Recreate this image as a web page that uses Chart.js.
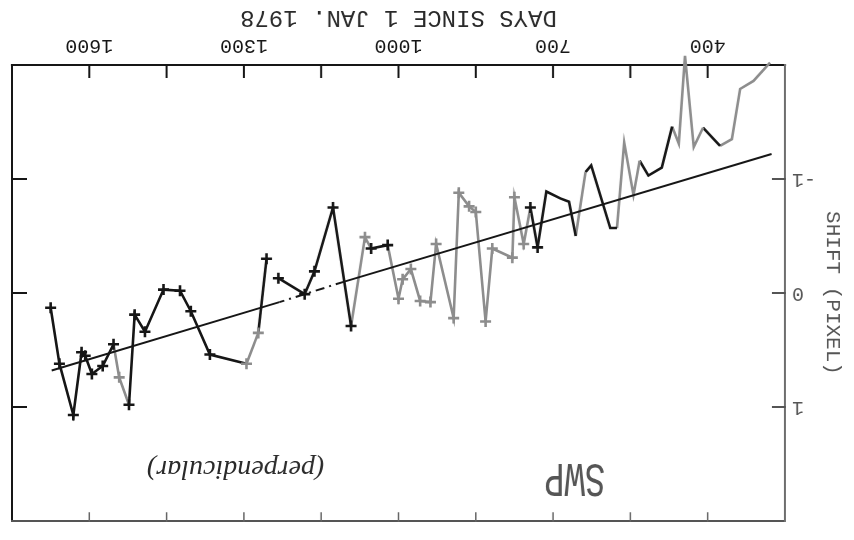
<!DOCTYPE html>
<html>
<head>
<meta charset="utf-8">
<title>SWP shift</title>
<script src="https://cdn.jsdelivr.net/npm/chart.js@4.4.1/dist/chart.umd.min.js"></script>
<style>
  html, body { margin: 0; padding: 0; background: #fff; }
  /* the plot sheet is mounted upside down */
  #sheet { width: 854px; height: 540px; transform: rotate(180deg); }
</style>
</head>
<body>
<div id="sheet"><canvas id="shiftChart" width="854" height="540"></canvas></div>
<script>
// labelled axis ticks
const dayTicks = [400, 700, 1000, 1300, 1600];
const shiftTicks = [-1, 0, 1];

// measured shifts, plotted with crosses (null = no data)
const markedDays = [730, 744, 757, 775, 779, 818, 831, 850, 863, 883, 893, 927, 938, 958, 976, 992,
  1000, 1021, 1053, 1065, 1092, 1127, 1163, 1182, 1233, 1245, 1256, 1272, 1295, 1366, 1403, 1424,
  1456, 1492, 1512, 1523, 1542, 1553, 1574, 1595, 1608, 1615, 1631, 1658, 1675];
const markedShift = [-0.40, -0.75, -0.43, -0.84, -0.31, -0.39, 0.25, -0.71, -0.76, -0.88, 0.22, -0.43, 0.08, 0.07, -0.21, -0.12,
  0.05, -0.42, -0.39, -0.49, 0.29, -0.75, -0.19, 0.01, -0.13, null, -0.30, 0.35, 0.62, 0.54, 0.16, -0.02,
  -0.03, 0.34, 0.19, 0.98, 0.74, 0.45, 0.64, 0.71, 0.55, 0.52, 1.07, 0.62, 0.13];

// later, continuous record (no crosses)
const tracedDays = [279, 311, 337, 353, 376, 409, 427, 444, 456, 469, 489, 515, 532, 544, 562, 576,
  589, 626, 637, 656, 669, 686, 713, 730];
const tracedShift = [-2.02, -1.86, -1.79, -1.35, -1.29, -1.45, -1.28, -2.08, -1.31, -1.46, -1.10, -1.03, -1.16, -0.86, -1.32, -0.57,
  -0.57, -1.12, -1.06, -0.50, -0.80, -0.83, -0.89, -0.40];

// fitted drift line
const trendDays = [276, 1105, 1231, 1673];
const trendShift = [-1.22, -0.10, 0.08, 0.68];

// day spans drawn with the second (grey) pen
const greyPenSpans = [[279, 376], [409, 469], [532, 576], [637, 656], [744, 1021], [1053, 1092], [1270, 1297], [1523, 1553]];

const INK = '#161616';
const GREY = '#8d8d8d';
const MONO = 'Liberation Mono';

const inGreySpan = (d, strict) => greyPenSpans.some(([a, b]) => strict ? (d > a && d < b) : (d >= a && d <= b));
const segInk = ctx => inGreySpan((ctx.p0.parsed.x + ctx.p1.parsed.x) / 2, false) ? GREY : INK;
const pointInk = ctx => {
  const raw = ctx.raw;
  return raw && inGreySpan(raw.x, true) ? GREY : INK;
};

const toPoints = (xs, ys) => xs.map((x, i) => ({ x: x, y: ys[i] }));

// frame, inward ticks and hand notes
const sheetPlugin = {
  id: 'sheet',
  beforeDatasetsDraw(chart) {
    const { ctx, chartArea: a, scales } = chart;
    const xs = scales.x, ys = scales.y;
    ctx.save();
    ctx.lineCap = 'square';

    const edge = (x1, y1, x2, y2, col, w) => {
      ctx.strokeStyle = col;
      ctx.lineWidth = w;
      ctx.beginPath();
      ctx.moveTo(x1, y1);
      ctx.lineTo(x2, y2);
      ctx.stroke();
    };
    edge(a.left, a.bottom, a.right, a.bottom, INK, 2.2);
    edge(a.right, a.top, a.right, a.bottom, INK, 2);
    edge(a.left, a.top, a.right, a.top, '#555', 2);
    edge(a.left, a.top, a.left, a.bottom, '#6e6e6e', 2);

    xs.ticks.forEach(t => {
      if (t.value <= xs.min || t.value >= xs.max) return;
      const px = xs.getPixelForValue(t.value);
      edge(px, a.bottom, px, a.bottom - 12, INK, 2);
      edge(px, a.top, px, a.top + 8, '#666', 1.5);
    });
    shiftTicks.forEach(v => {
      const py = ys.getPixelForValue(v);
      edge(a.left, py, a.left + 12, py, '#555', 2);
      edge(a.right, py, a.right - 14, py, INK, 2);
    });

    // "SWP"
    ctx.save();
    ctx.translate(xs.getPixelForValue(658), ys.getPixelForValue(1.61));
    ctx.scale(1, 1.4);
    ctx.fillStyle = '#555';
    ctx.font = '34px "' + MONO + '"';
    ctx.textAlign = 'center';
    ctx.textBaseline = 'middle';
    ctx.fillText('SWP', 0, 0);
    ctx.restore();

    // "(perpendicular)"
    ctx.save();
    ctx.translate(xs.getPixelForValue(1316), ys.getPixelForValue(1.54));
    ctx.fillStyle = '#2a2a2a';
    ctx.font = 'italic 28px "Liberation Serif"';
    ctx.textAlign = 'center';
    ctx.textBaseline = 'middle';
    ctx.fillText('(perpendicular)', 0, 0);
    ctx.restore();

    ctx.restore();
  }
};

new Chart(document.getElementById('shiftChart'), {
  type: 'line',
  data: {
    datasets: [
      {
        label: 'drift fit',
        data: toPoints(trendDays, trendShift),
        borderColor: INK,
        borderWidth: 2,
        pointRadius: 0,
        tension: 0,
        clip: false,
        segment: { borderDash: ctx => ctx.p0DataIndex === 1 ? [9, 5, 2, 5] : undefined }
      },
      {
        label: 'measured',
        data: toPoints(markedDays, markedShift),
        borderWidth: 2.6,
        borderColor: INK,
        tension: 0,
        clip: false,
        spanGaps: false,
        pointStyle: 'cross',
        pointRadius: 5.5,
        pointBorderWidth: 2.6,
        pointBorderColor: pointInk,
        segment: { borderColor: segInk }
      },
      {
        label: 'continuous',
        data: toPoints(tracedDays, tracedShift),
        borderWidth: 2.6,
        borderColor: INK,
        tension: 0,
        clip: false,
        pointRadius: 0,
        segment: { borderColor: segInk }
      }
    ]
  },
  options: {
    responsive: false,
    animation: false,
    layout: { padding: { left: 0, right: 12, top: 3, bottom: 0 } },
    plugins: { legend: { display: false }, tooltip: { enabled: false } },
    scales: {
      x: {
        type: 'linear',
        min: 250,
        max: 1750,
        grid: { display: false, drawTicks: false },
        border: { display: false },
        ticks: {
          stepSize: 150,
          autoSkip: false,
          maxRotation: 0,
          padding: 8,
          color: INK,
          font: { family: MONO, size: 20 },
          callback: v => dayTicks.includes(v) ? String(v) : ''
        },
        title: {
          display: true,
          text: 'DAYS SINCE 1 JAN. 1978',
          color: '#2a2a2a',
          font: { family: MONO, size: 24 },
          padding: { top: 0, bottom: 3 }
        },
        afterFit: s => { s.height = 65; }
      },
      y: {
        min: -2,
        max: 2,
        grid: { display: false, drawTicks: false },
        border: { display: false },
        ticks: {
          stepSize: 1,
          padding: 7,
          color: '#555',
          font: { family: MONO, size: 20 },
          callback: v => shiftTicks.includes(v) ? String(v) : ''
        },
        title: {
          display: true,
          text: 'SHIFT (PIXEL)',
          color: '#555',
          font: { family: MONO, size: 21 },
          padding: { top: 9, bottom: 0 }
        },
        afterFit: s => { s.width = 69; }
      }
    }
  },
  plugins: [sheetPlugin]
});
</script>
</body>
</html>
